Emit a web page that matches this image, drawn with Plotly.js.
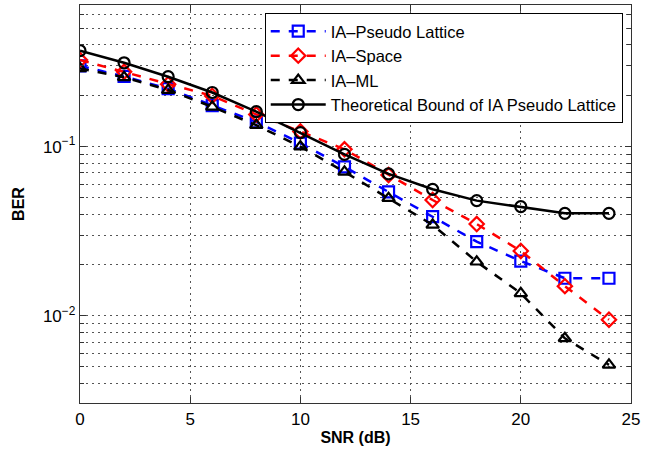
<!DOCTYPE html>
<html><head><meta charset="utf-8">
<script src="https://cdn.plot.ly/plotly-3.0.1.min.js"></script>
<style>html,body{margin:0;padding:0;background:#fff}#chart{width:658px;height:455px}</style>
</head><body><div id="chart"></div>
<script>
const snr = [0, 2, 4, 6, 8, 10, 12, 14, 16, 18, 20, 22, 24];
const berPseudo = [0.30, 0.26, 0.22, 0.175, 0.14, 0.105, 0.076, 0.054, 0.0386, 0.0275, 0.0211, 0.0167, 0.0167];
const berSpace = [0.325, 0.277, 0.234, 0.1995, 0.155, 0.123, 0.0965, 0.068, 0.0484, 0.0349, 0.0242, 0.0150, 0.0095];
const berML = [0.29, 0.257, 0.216, 0.172, 0.134, 0.100, 0.071, 0.0496, 0.0345, 0.0209, 0.0136, 0.00738, 0.00514];
const berTheory = [0.369, 0.313, 0.259, 0.209, 0.161, 0.121, 0.090, 0.069, 0.056, 0.048, 0.0442, 0.0404, 0.0404];
const names = ['IA\u2013Pseudo Lattice', 'IA\u2013Space', 'IA\u2013ML', 'Theoretical Bound of IA Pseudo Lattice'];
const xTicks = [0, 5, 10, 15, 20, 25];
const yTicks = [0.01, 0.1];
const yTickText = ['10<sup>\u22122</sup>', '10<sup>\u22121</sup>'];

const minorVals = [];
for (const dec of [0.001, 0.01, 0.1]) {
  for (let k = 2; k <= 9; k++) minorVals.push(+(k * dec).toPrecision(3));
}

const font = 'Liberation Sans, Arial, Helvetica, sans-serif';
function tr(y, name, color, symbol, dash) {
  return {
    x: snr, y: y, name: name, type: 'scatter', mode: 'lines+markers',
    line: {color: color, width: 2.5, dash: dash},
    marker: {symbol: symbol, size: 11, color: color, line: {color: color, width: 2.2}}
  };
}
const data = [
  tr(berPseudo, names[0], '#0000ff', 'square-open', 'dash'),
  tr(berSpace, names[1], '#ff0000', 'diamond-open', 'dash'),
  tr(berML, names[2], '#000000', 'triangle-up-open', 'dash'),
  tr(berTheory, names[3], '#000000', 'circle-open', 'solid')
];
const gridDash = '1.5px,4.5px';
const axisCommon = {
  showline: true, linecolor: '#333', linewidth: 1.2, mirror: 'ticks',
  ticks: 'inside', ticklen: 6, tickcolor: '#333',
  showgrid: true, gridcolor: '#555', griddash: gridDash, gridwidth: 1,
  zeroline: false, tickfont: {family: font, size: 17, color: '#000'}
};
const layout = {
  width: 658, height: 455,
  margin: {l: 80, r: 27, t: 5, b: 52},
  paper_bgcolor: '#fff', plot_bgcolor: '#fff',
  font: {family: font, color: '#000'},
  showlegend: true,
  legend: {
    x: 0.985, xanchor: 'right', y: 0.98, yanchor: 'top',
    bgcolor: '#fff', bordercolor: '#000', borderwidth: 1,
    itemwidth: 55,
    font: {family: font, size: 16.5, color: '#000'}, tracegroupgap: 0
  },
  xaxis: Object.assign({}, axisCommon, {
    range: [0, 25], tickvals: xTicks,
    title: {text: '<b>SNR (dB)</b>', font: {family: font, size: 16}, standoff: 4}
  }),
  yaxis: Object.assign({}, axisCommon, {
    type: 'log', range: [Math.log10(0.00306), Math.log10(0.687)],
    tickvals: yTicks, ticktext: yTickText,
    title: {text: '<b>BER</b>', font: {family: font, size: 16}, standoff: 14},
    minor: {tickvals: minorVals, ticks: 'inside', ticklen: 4, tickcolor: '#333',
            showgrid: true, gridcolor: '#555', griddash: gridDash, gridwidth: 1}
  })
};
Plotly.newPlot('chart', data, layout, {displayModeBar: false, staticPlot: true});
</script></body></html>
